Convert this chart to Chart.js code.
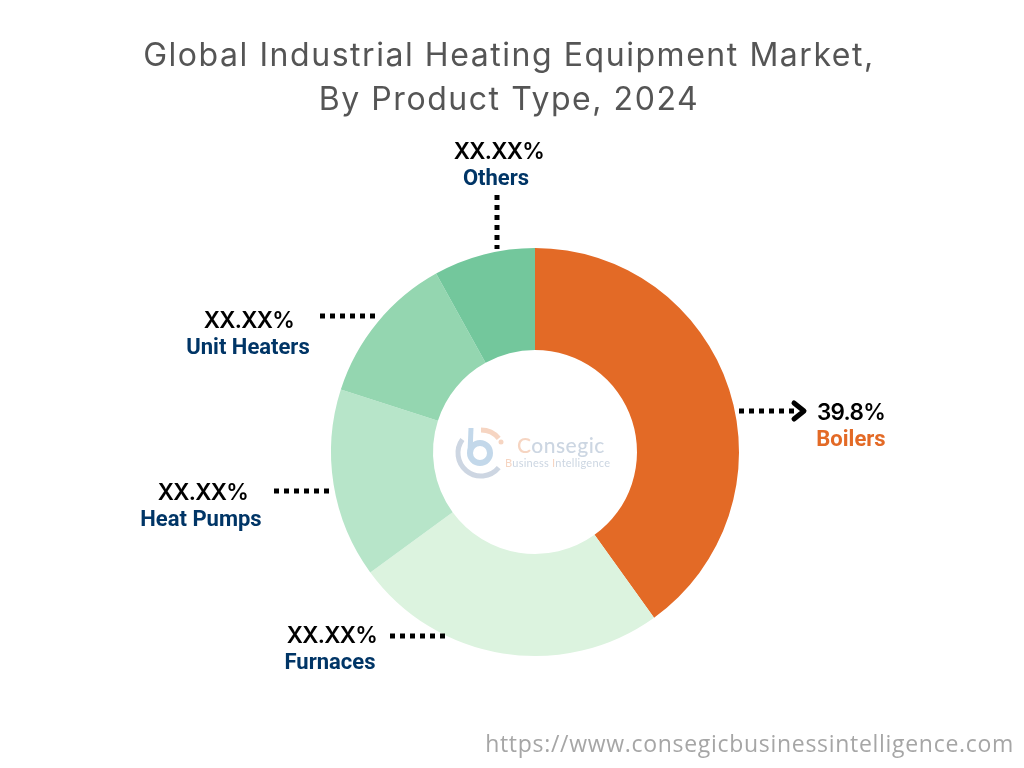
<!DOCTYPE html>
<html>
<head>
<meta charset="utf-8">
<title>Global Industrial Heating Equipment Market</title>
<script src="https://cdn.jsdelivr.net/npm/chart.js@4"></script>
<style>
    html, body { margin: 0; padding: 0; background: #fff; }
    #pagina { position: relative; width: 1024px; height: 768px; overflow: hidden; }
    #grafico { position: absolute; left: 0; top: 0; }
    .texto { position: absolute; white-space: nowrap; text-align: center; }
    #titulo { left: 0; width: 1018px; top: 33px; font: 400 32px/44px Inter, sans-serif; letter-spacing: 1.55px; color: #555; }
    .valor { font: 600 22.5px/28px Inter, sans-serif; letter-spacing: -.7px; color: #000; }
    .nome { font: 700 22px/26px Roboto, sans-serif; color: #003566; }
    #site { right: 10px; top: 728px; font: 400 23px/30px "Open Sans", sans-serif; letter-spacing: .7px; color: #a6a6a6; }
    #marca1 { left: 517px; top: 433px; font: 500 21px/24px Lato, sans-serif; letter-spacing: .5px; color: #ccd6e2; }
    #marca1 b { font-weight: 500; color: #f6d5c2; }
    #marca2 { left: 505px; top: 456px; font: 400 11px/14px Lato, sans-serif; letter-spacing: .25px; color: #ccd6e2; }
    #marca2 b { font-weight: 400; color: #f6d5c2; }
</style>
</head>
<body>
<div id="pagina">
    <canvas id="grafico" width="1024" height="768"></canvas>
    <div class="texto" id="titulo">Global Industrial Heating Equipment Market,<br>By Product Type, 2024</div>
    <div class="texto" id="marca1"><b>C</b>onsegic</div>
    <div class="texto" id="marca2"><b>B</b>usiness <b>I</b>ntelligence</div>
    <div class="texto" id="site">https://www.consegicbusinessintelligence.com</div>
</div>
<script>
const categorias = ['Boilers', 'Furnaces', 'Heat Pumps', 'Unit Heaters', 'Others'];
const valores = [39.8, 24.7, 14.9, 11.9, 8];
const rotulos = ['39.8%', 'XX.XX%', 'XX.XX%', 'XX.XX%', 'XX.XX%'];
const cores = ['#e36a26', '#dcf3df', '#b7e5c9', '#94d6b0', '#73c79c'];

// centro do texto de cada rotulo: x do valor, y do valor, x do nome
const posicoes = [[851, 412, 851], [332, 635, 330], [203, 492, 201], [249, 320, 248], [499, 151, 496]];
// pontilhados: x1, y1, x2, y2
const pontilhados = [[739, 411, 797, 411], [390, 636, 445, 636], [274, 491, 329, 491], [320, 316, 375, 316], [497, 195, 497, 249]];

const pagina = document.getElementById('pagina');
categorias.forEach((nome, i) => {
    const valor = document.createElement('div');
    valor.className = 'texto valor';
    valor.textContent = rotulos[i];
    valor.style.left = posicoes[i][0] + 'px';
    valor.style.top = (posicoes[i][1] - 14) + 'px';
    valor.style.transform = 'translateX(-50%)';
    pagina.appendChild(valor);

    const legenda = document.createElement('div');
    legenda.className = 'texto nome';
    legenda.textContent = nome;
    legenda.style.left = posicoes[i][2] + 'px';
    legenda.style.top = (posicoes[i][1] + 14) + 'px';
    legenda.style.transform = 'translateX(-50%)';
    if (i === 0) legenda.style.color = '#e36a26';
    pagina.appendChild(legenda);
});

const pluginDetalhes = {
    id: 'detalhes',
    afterDraw(chart) {
        const ctx = chart.ctx;
        ctx.save();
        ctx.strokeStyle = '#000';
        ctx.lineWidth = 5;
        ctx.setLineDash([5, 5]);
        pontilhados.forEach(p => {
            ctx.beginPath();
            ctx.moveTo(p[0], p[1]);
            ctx.lineTo(p[2], p[3]);
            ctx.stroke();
        });
        // ponta da seta dos Boilers
        ctx.setLineDash([]);
        ctx.lineWidth = 5;
        ctx.lineCap = 'round';
        ctx.lineJoin = 'round';
        ctx.beginPath();
        ctx.moveTo(794, 403);
        ctx.lineTo(804, 411);
        ctx.lineTo(794, 419);
        ctx.stroke();

        // logo em marca d'agua
        ctx.lineCap = 'butt';
        ctx.lineWidth = 5;
        ctx.strokeStyle = '#cdd6e2';
        ctx.beginPath();
        ctx.arc(481, 453, 23, Math.PI * 0.22, Math.PI * 1.2);
        ctx.stroke();
        ctx.strokeStyle = '#c3d8ea';
        ctx.lineWidth = 6;
        ctx.beginPath();
        ctx.arc(480, 453, 10, 0, Math.PI * 2);
        ctx.stroke();
        ctx.lineWidth = 5;
        ctx.beginPath();
        ctx.moveTo(471, 428);
        ctx.lineTo(470, 453);
        ctx.stroke();
        ctx.strokeStyle = '#f6d5c2';
        ctx.beginPath();
        ctx.arc(481, 453, 23, Math.PI * 1.5, Math.PI * 1.78);
        ctx.stroke();
        ctx.fillStyle = '#f6d5c2';
        ctx.beginPath();
        ctx.arc(501, 442, 2.5, 0, Math.PI * 2);
        ctx.fill();
        ctx.restore();
    }
};

new Chart(document.getElementById('grafico'), {
    type: 'doughnut',
    data: {
        labels: categorias,
        datasets: [{
            data: valores,
            backgroundColor: cores,
            borderWidth: 0
        }]
    },
    options: {
        responsive: false,
        animation: false,
        cutout: '50%',
        layout: { padding: { left: 331, right: 285, top: 248, bottom: 112 } },
        plugins: {
            legend: { display: false },
            tooltip: { enabled: false }
        }
    },
    plugins: [pluginDetalhes]
});
</script>
</body>
</html>
